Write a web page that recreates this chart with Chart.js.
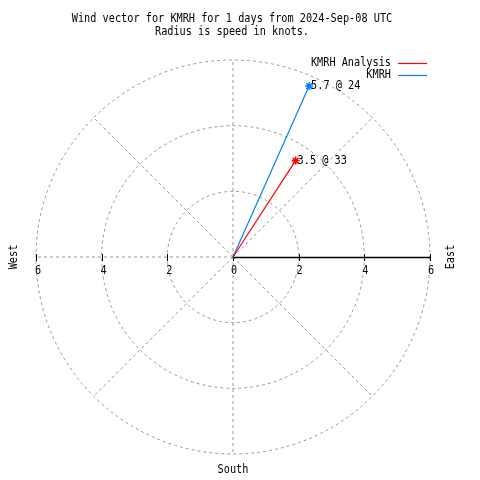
<!DOCTYPE html>
<html>
<head>
<meta charset="utf-8">
<script src="https://cdn.jsdelivr.net/npm/chart.js@4"></script>
<style>
  html, body { margin: 0; padding: 0; background: #fff; }
  #wrap { width: 480px; height: 480px; }
</style>
</head>
<body>
<div id="wrap"><canvas id="grafico" width="480" height="480"></canvas></div>
<script>
// dados do vento
const seriesLabels = ["KMRH Analysis", "KMRH"];
const speeds = [3.5, 5.7];       // nós
const directions = [33, 24];     // graus a partir do norte
const ringTicks = [2, 4, 6];
const axisTickLabels = ["0", "2", "4", "6"];
const titleLines = [
    "Wind vector for KMRH for 1 days from 2024-Sep-08 UTC",
    "Radius is speed in knots."
];

const cores = ["#ff0000", "#0080ff"];
const fonte = "11.5px 'DejaVu Sans Mono', monospace";
const escalaTexto = 0.89; // fonte do gnuplot é mais estreita

function ponto(vel, dir) {
    const r = dir * Math.PI / 180;
    return { x: vel * Math.sin(r), y: vel * Math.cos(r) };
}

function texto(ctx, t, x, y, align) {
    ctx.save();
    ctx.translate(x, y);
    ctx.scale(escalaTexto, 1);
    ctx.textAlign = align;
    ctx.fillText(t, 0, 0);
    ctx.restore();
}

const datasets = seriesLabels.map((label, i) => ({
    label: label,
    data: [{ x: 0, y: 0 }, ponto(speeds[i], directions[i])],
    showLine: true,
    borderColor: cores[i],
    backgroundColor: cores[i],
    borderWidth: 1.2,
    pointStyle: "star",
    pointRadius: [0, 4],
    pointBorderWidth: 1.5,
    speed: speeds[i],
    direction: directions[i]
}));

const polarGrid = {
    id: "polarGrid",
    beforeDatasetsDraw(chart) {
        const ctx = chart.ctx;
        const xs = chart.scales.x, ys = chart.scales.y;
        const cx = xs.getPixelForValue(0), cy = ys.getPixelForValue(0);
        const px = v => xs.getPixelForValue(v) - cx;
        const rMax = px(ringTicks[ringTicks.length - 1]);

        ctx.save();
        ctx.strokeStyle = "#999999";
        ctx.lineWidth = 1;
        ctx.setLineDash([3, 3]);
        ringTicks.forEach(t => {
            ctx.beginPath();
            ctx.arc(cx, cy, px(t), 0, Math.PI * 2);
            ctx.stroke();
        });
        // raios a cada 45 graus (menos o leste, que é o eixo)
        for (let a = 45; a < 360; a += 45) {
            const r = a * Math.PI / 180;
            ctx.beginPath();
            ctx.moveTo(cx, cy);
            ctx.lineTo(cx + rMax * Math.cos(r), cy - rMax * Math.sin(r));
            ctx.stroke();
        }
        ctx.restore();

        // eixo leste sólido
        ctx.save();
        ctx.strokeStyle = "#000";
        ctx.lineWidth = 1.3;
        ctx.beginPath();
        ctx.moveTo(cx, cy + 0.5);
        ctx.lineTo(cx + rMax, cy + 0.5);
        ctx.stroke();
        ctx.lineWidth = 1;
        [0].concat(ringTicks).forEach(t => {
            [1, -1].forEach(s => {
                const x = Math.round(cx + s * px(t)) + 0.5;
                ctx.beginPath();
                ctx.moveTo(x, cy - 3);
                ctx.lineTo(x, cy + 4);
                ctx.stroke();
            });
        });

        ctx.fillStyle = "#000";
        ctx.font = fonte;
        ctx.textBaseline = "middle";
        axisTickLabels.forEach(l => {
            const v = Number(l);
            texto(ctx, l, cx + px(v) + 1, cy + 14, "center");
            if (v > 0) texto(ctx, l, cx - px(v) + 2, cy + 14, "center");
        });
        ctx.restore();
    },
    afterDatasetsDraw(chart) {
        const ctx = chart.ctx;
        ctx.save();
        ctx.font = fonte;
        ctx.fillStyle = "#000";
        ctx.textBaseline = "middle";

        // rótulos dos pontos
        chart.data.datasets.forEach((ds, i) => {
            const el = chart.getDatasetMeta(i).data[1];
            texto(ctx, ds.speed.toFixed(1) + " @ " + ds.direction, el.x + 2, el.y, "left");
        });

        // título
        titleLines.forEach((t, i) => texto(ctx, t, 232, 19 + i * 13, "center"));

        // legenda
        seriesLabels.forEach((label, i) => {
            const y = 63 + i * 12;
            texto(ctx, label, 391, y, "right");
            ctx.save();
            ctx.strokeStyle = cores[i];
            ctx.lineWidth = 1.2;
            ctx.beginPath();
            ctx.moveTo(398, y + 0.5);
            ctx.lineTo(427, y + 0.5);
            ctx.stroke();
            ctx.restore();
        });

        // nomes dos eixos
        const xs = chart.scales.x, ys = chart.scales.y;
        const cy = ys.getPixelForValue(0);
        texto(ctx, "South", xs.getPixelForValue(0), 470, "center");
        [["West", 14], ["East", 451]].forEach(([t, x]) => {
            ctx.save();
            ctx.translate(x, cy);
            ctx.rotate(-Math.PI / 2);
            texto(ctx, t, 0, 0, "center");
            ctx.restore();
        });
        ctx.restore();
    }
};

new Chart(document.getElementById("grafico"), {
    type: "scatter",
    data: { datasets: datasets },
    options: {
        responsive: false,
        animation: false,
        layout: { padding: { left: 36, right: 50, top: 60, bottom: 26 } },
        plugins: {
            legend: { display: false },
            tooltip: { enabled: false },
            title: { display: false }
        },
        scales: {
            x: { type: "linear", min: -6, max: 6, display: false },
            y: { type: "linear", min: -6, max: 6, display: false }
        }
    },
    plugins: [polarGrid]
});
</script>
</body>
</html>
